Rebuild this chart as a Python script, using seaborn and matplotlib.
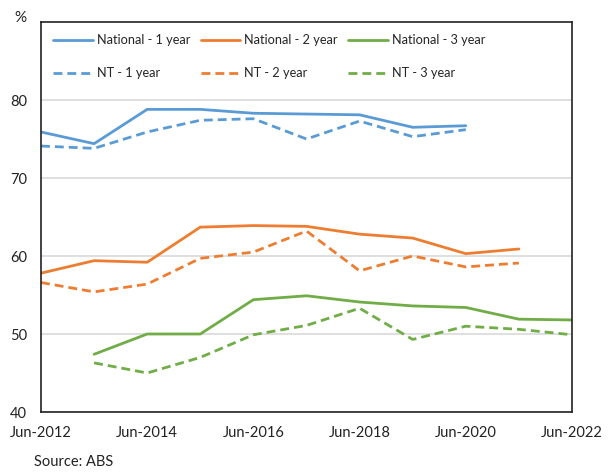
import matplotlib
matplotlib.use("Agg")
import matplotlib.pyplot as plt
import seaborn as sns
import pandas as pd

years = [2012, 2013, 2014, 2015, 2016, 2017, 2018, 2019, 2020, 2021, 2022]
national_1 = [75.9, 74.4, 78.8, 78.8, 78.3, 78.2, 78.1, 76.5, 76.7, None, None]
nt_1 = [74.1, 73.8, 75.9, 77.4, 77.6, 75.0, 77.3, 75.3, 76.2, None, None]
national_2 = [57.8, 59.4, 59.2, 63.7, 63.9, 63.8, 62.8, 62.3, 60.3, 60.9, None]
nt_2 = [56.6, 55.4, 56.4, 59.7, 60.5, 63.2, 58.1, 60.0, 58.6, 59.1, None]
national_3 = [None, 47.4, 50.0, 50.0, 54.4, 54.9, 54.1, 53.6, 53.4, 51.9, 51.8]
nt_3 = [None, 46.3, 45.0, 47.0, 49.9, 51.1, 53.3, 49.3, 51.0, 50.6, 49.9]

x_tick_years = [2012, 2014, 2016, 2018, 2020, 2022]
x_tick_labels = ["Jun-2012", "Jun-2014", "Jun-2016", "Jun-2018", "Jun-2020", "Jun-2022"]
y_ticks = [40, 50, 60, 70, 80]

series = [
    ("National - 1 year", national_1, "#5B9BD5", False),
    ("NT - 1 year", nt_1, "#5B9BD5", True),
    ("National - 2 year", national_2, "#ED7D31", False),
    ("NT - 2 year", nt_2, "#ED7D31", True),
    ("National - 3 year", national_3, "#70AD47", False),
    ("NT - 3 year", nt_3, "#70AD47", True),
]

sns.set_theme(style="white")
plt.rcParams['font.family'] = ['Lato', 'DejaVu Sans']

fig = plt.figure(figsize=(6.1, 4.73), dpi=100)
ax = fig.add_axes([41/610, 61/473, (572-41)/610, (412-22)/473])

handles = []
for name, vals, color, dashed in series:
    df = pd.DataFrame({"year": years, "value": vals}).dropna()
    sns.lineplot(data=df, x="year", y="value", ax=ax, color=color, lw=2.0,
                 label=name, legend=False)
    line = ax.lines[-1]
    if dashed:
        line.set_dashes((3.2, 1.8))
    handles.append(line)

ax.set_xlim(2012, 2022)
ax.set_ylim(40, 90)
ax.set_yticks(y_ticks)
ax.set_yticklabels([str(v) for v in y_ticks], fontsize=10.5, color="#222222")
ax.set_xticks(years, minor=False)
ax.set_xticklabels([x_tick_labels[x_tick_years.index(y)] if y in x_tick_years else "" for y in years],
                   fontsize=10.5, color="#222222")
ax.tick_params(axis="x", direction="in", length=5, width=0.8, color="#888888", pad=10)
ax.tick_params(axis="y", length=0, pad=10)
ax.set_xlabel("")
ax.set_ylabel("")
ax.grid(axis="y", color="#D9D9D9", lw=1.2)
ax.grid(axis="x", visible=False)
for s in ax.spines.values():
    s.set_visible(True)
    s.set_color("#222222")
    s.set_linewidth(1.2)

ax.legend(handles=handles, labels=[s[0] for s in series], ncol=3, frameon=False,
          loc="upper left", bbox_to_anchor=(0.0, 1.0), fontsize=9.2,
          handlelength=3.1, handletextpad=0.3, columnspacing=0.83, labelspacing=1.66,
          borderaxespad=0.55, borderpad=0.4)

fig.text(14/610, 1 - 18/473, "%", fontsize=11, ha="left", va="center", color="#222222")
fig.text(34/610, 1 - 462/473, "Source: ABS", fontsize=10.5, ha="left", va="center", color="#222222")

fig.savefig("out.png", dpi=100)
